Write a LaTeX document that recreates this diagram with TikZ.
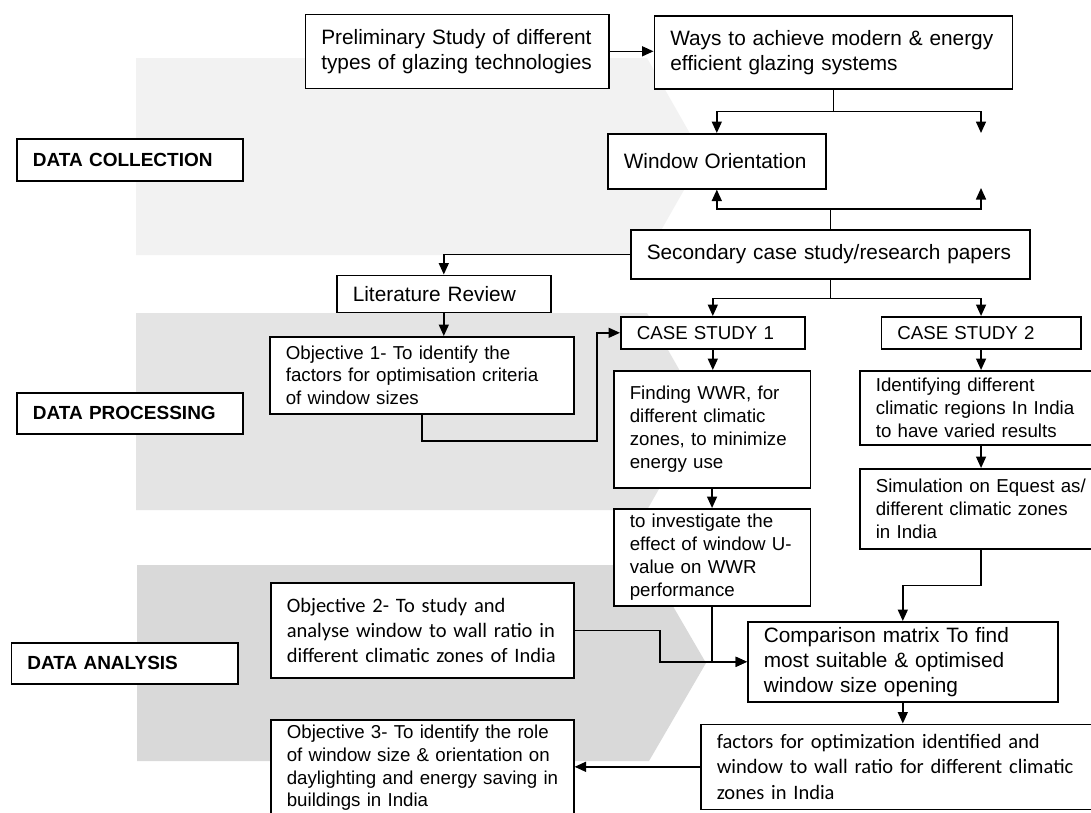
\documentclass[tikz,border=0pt]{standalone}
\usepackage{fontspec}
\setmainfont{Liberation Sans}
\newfontfamily\calfont{Carlito}
\usetikzlibrary{arrows.meta,calc}

\definecolor{bandA}{HTML}{F2F2F2}
\definecolor{bandB}{HTML}{E4E4E4}
\definecolor{bandC}{HTML}{D9D9D9}

\newcommand\bigtext{\fontsize{20.8}{25}\selectfont}
\newcommand\smalltext{\fontsize{18.7}{22.8}\selectfont}
\newcommand\caltext{\calfont\fontsize{20.5}{25.2}\selectfont}
\newcommand\stagetext{\bfseries\fontsize{19}{23}\selectfont}

\begin{document}
\begin{tikzpicture}[x=1pt,y=-1pt,
  box/.style={draw, fill=white, line width=1.6pt, anchor=north west,
    align=left, inner xsep=16pt, inner ysep=0pt,
    execute at begin node={\hyphenpenalty=10000\rightskip=0pt plus 1fil minus 100pt\relax}},
  bigbox/.style={box, font=\bigtext},
  smallbox/.style={box, font=\smalltext},
  calbox/.style={box, font=\caltext},
  stagebox/.style={box, font=\stagetext},
  link/.style={line width=1.6pt, -{Triangle[length=11.5pt,width=10pt]}}]
\useasboundingbox (0,0) rectangle (1091,812);
\fill[white] (0,0) rectangle (1091,812);

% Grey stage arrows in the background
\fill[bandA] (136,58) -- (647,58) -- (703,156.5) -- (647,255) -- (136,255) -- cycle;
\fill[bandB] (136,313) -- (647,313) -- (703,411.5) -- (647,510) -- (136,510) -- cycle;
\fill[bandC] (137,565) -- (649,565) -- (706,663) -- (649,761) -- (137,761) -- cycle;

% Stage labels
\node[stagebox, text width=194pt, minimum height=42pt] (collect) at (16,138) {DATA COLLECTION};
\node[stagebox, text width=194pt, minimum height=41pt] (process) at (16,392) {DATA PROCESSING};
\node[stagebox, text width=194.5pt, minimum height=41pt] (analyse) at (10.5,642) {DATA ANALYSIS};

% Data collection
\node[bigbox, text width=271.5pt, minimum height=74pt] (prelim) at (304.5,13.5)
  {Preliminary Study of different\\types of glazing technologies};
\node[bigbox, text width=326pt, minimum height=73pt] (ways) at (653.5,15)
  {Ways to achieve modern \& energy\\efficient glazing systems};
\node[bigbox, text width=186pt, minimum height=55pt] (orient) at (607,133) {Window Orientation};
\node[bigbox, text width=367pt, minimum height=49pt] (second) at (630,229)
  {Secondary case study/research papers};
\node[bigbox, text width=182pt, minimum height=37pt] (litrev) at (336,274.5) {Literature Review};

% Data processing
\node[smallbox, text width=272pt, minimum height=77pt] (obj1) at (269,336)
  {Objective 1- To identify the\\factors for optimisation criteria\\of window sizes};
\node[smallbox, text width=152pt, minimum height=32pt] (case1) at (620,316) {CASE STUDY 1};
\node[smallbox, text width=167.5pt, minimum height=32pt] (case2) at (880.5,316) {CASE STUDY 2};
\node[smallbox, text width=164.5pt, minimum height=117pt] (wwr) at (613,370)
  {Finding WWR, for\\different climatic\\zones, to minimize\\energy use};
\node[smallbox, text width=164.5pt, minimum height=97pt] (uval) at (613,508)
  {to investigate the\\effect of window U-\\value on WWR\\performance};
\node[smallbox, text width=210.5pt, minimum height=74pt] (zones) at (859,370)
  {Identifying different\\climatic regions In India\\to have varied results};
\node[smallbox, text width=210.5pt, minimum height=80pt] (equest) at (859,468)
  {Simulation on Equest as/\\different climatic zones\\in India};

% Data analysis
\node[calbox, text width=271pt, minimum height=95pt] (obj2) at (270,582)
  {Objective 2- To study and\\analyse window to wall ratio in\\different climatic zones of India};
\node[bigbox, text width=278pt, minimum height=80pt] (compare) at (747,621)
  {Comparison matrix To find\\most suitable \& optimised\\window size opening};
\node[calbox, text width=378pt, minimum height=85pt] (result) at (700,723.5)
  {factors for optimization identified and\\window to wall ratio for different climatic\\zones in India};
\node[smallbox, text width=271pt, minimum height=96pt] (obj3) at (270,719)
  {Objective 3- To identify the role\\of window size \& orientation on\\daylighting and energy saving in\\buildings in India};

% Free ends and bends
\coordinate (rtop) at (981,133);
\coordinate (rbot) at (981,188);
\coordinate (bend) at (597,441);
\coordinate (jx) at (660,0);

% Connectors
\draw[link] (prelim.east) -- (prelim.east -| ways.west);
\draw[link] (ways.south) -- ++(0,22) -| (orient.north);
\draw[link] (ways.south) -- ++(0,22) -| (rtop);
\draw[link] (second.north) -- ++(0,-20) -| (orient.south);
\draw[link] (second.north) -- ++(0,-20) -| (rbot);
\draw[link] (second.west) -| (litrev.north);
\draw[link] (litrev.south) -- (litrev.south |- obj1.north);
\draw[link] (obj1.south) |- (bend) |- (case1.west);
\draw[link] (second.south) -- ++(0,19) -| (case1.north);
\draw[link] (second.south) -- ++(0,19) -| (case2.north);
\draw[link] (case1.south) -- (case1.south |- wwr.north);
\draw[link] (wwr.south) -- (uval.north);
\draw[link] (case2.south) -- (zones.north);
\draw[link] (zones.south) -- (equest.north);
\draw[link] (equest.south) -- ++(0,36) -| (compare.north);
\draw[link] (uval.south) |- (compare.west);
\draw[link] (obj2.east) -| (compare.west -| jx) -- (compare.west);
\draw[link] (compare.south) -- (compare.south |- result.north);
\draw[link] (result.west) -- (result.west -| obj3.east);

\end{tikzpicture}
\end{document}
